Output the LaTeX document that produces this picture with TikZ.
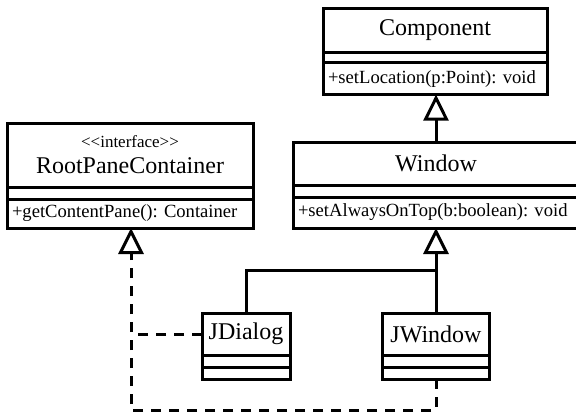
\documentclass[tikz,border=0pt]{standalone}
\usepackage{fontspec}
\setmainfont{Liberation Serif}
\usetikzlibrary{arrows.meta,positioning}
\newcommand{\namefont}{\fontsize{12}{14}\selectfont}
\newcommand{\opsfont}{\fontsize{9.3}{11}\selectfont\frenchspacing}
\newcommand{\stereofont}{\fontsize{8.5}{10}\selectfont}

\begin{document}
\begin{tikzpicture}[x=0.5pt,y=-0.5pt,line width=1.5pt,
    uml/.style={draw,outer sep=0pt,inner sep=0pt},
    umlname/.style={uml,font=\namefont,minimum height=21.5pt,align=center},
    umlgap/.style={uml,minimum height=6pt},
    umlops/.style={uml,font=\opsfont,minimum height=15.5pt,inner xsep=2.5pt,align=left},
    inherit/.style={-{Triangle[open,length=13pt,width=12.5pt]}},
    realize/.style={inherit,dash pattern=on 5pt off 4pt}]
   \useasboundingbox (0,0) rectangle (576,414);
   % Component
   \node[umlname,minimum width=112pt,minimum height=22pt] (comp) at (435,30) {Component};
   \node[umlgap,minimum width=112pt,minimum height=5.3pt] (compgap) [below=0pt of comp] {};
   \node[umlops,text width=107pt,minimum height=16pt] (compops) [below=0pt of compgap] {+setLocation(p:Point): void};
   % Window
   \node[umlname,minimum width=143pt] (win) at (436,163.5) {Window};
   \node[umlgap,minimum width=143pt] (wingap) [below=0pt of win] {};
   \node[umlops,text width=138pt] (winops) [below=0pt of wingap] {+setAlwaysOnTop(b:boolean): void};
   % RootPaneContainer
   \node[umlname,minimum width=123pt,minimum height=32pt] (root) at (130,155)
      {{\stereofont <\kern0pt<interface>\kern0pt>}\\[-1pt]RootPaneContainer};
   \node[umlgap,minimum width=123pt] (rootgap) [below=0pt of root] {};
   \node[umlops,text width=118pt,minimum height=14.5pt] (rootops) [below=0pt of rootgap] {+getContentPane(): Container};
   % JDialog, JWindow
   \node[umlname,minimum width=44pt,minimum height=21pt] (jdlg) at (246,334) {JDialog};
   \node[umlgap,minimum width=44pt] (jdlggap) [below=0pt of jdlg] {};
   \node[umlgap,minimum width=44pt] (jdlglast) [below=0pt of jdlggap] {};
   \node[umlname,minimum width=53.5pt,minimum height=21pt] (jwin) at (436,334) {JWindow};
   \node[umlgap,minimum width=53.5pt] (jwingap) [below=0pt of jwin] {};
   \node[umlgap,minimum width=53.5pt] (jwinlast) [below=0pt of jwingap] {};

   \coordinate (join) at (436,270);
   \coordinate (bend) at (131,410);
   \draw[inherit] (win.north) -- (win.north |- compops.south);
   \draw[inherit] (jwin.north) -- (jwin.north |- winops.south);
   \draw (jdlg.north) |- (join);
   \draw[realize] (jwinlast.south) |- (bend) -- (bend |- rootops.south);
   \draw[realize,-] (jdlg.west) -- (jdlg.west -| bend);
\end{tikzpicture}
\end{document}
